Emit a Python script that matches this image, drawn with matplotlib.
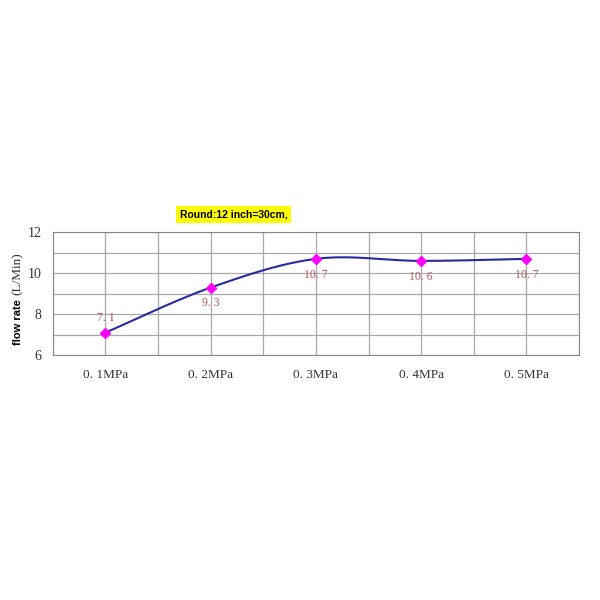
import numpy as np
import matplotlib.pyplot as plt

categories = ['0. 1MPa', '0. 2MPa', '0. 3MPa', '0. 4MPa', '0. 5MPa']
flow = [7.1, 9.3, 10.7, 10.6, 10.7]
label_above = [True, False, False, False, False]

plt.rcParams['font.family'] = ['Liberation Serif', 'DejaVu Serif']

x = np.arange(len(flow), dtype=float)
y = np.array(flow)


def smooth(x, y, n=40):
    # Catmull-Rom style smoothing like a spreadsheet "smoothed line"
    px = np.concatenate([[x[0]], x, [x[-1]]])
    py = np.concatenate([[y[0]], y, [y[-1]]])
    xs, ys = [], []
    t = np.linspace(0, 1, n)
    for i in range(1, len(px) - 2):
        p0, p1, p2, p3 = (np.array([px[j], py[j]]) for j in range(i - 1, i + 3))
        c1 = p1 + (p2 - p0) / 6
        c2 = p2 - (p3 - p1) / 6
        b = ((1 - t) ** 3)[:, None] * p1 + (3 * (1 - t) ** 2 * t)[:, None] * c1 \
            + (3 * (1 - t) * t ** 2)[:, None] * c2 + (t ** 3)[:, None] * p2
        xs.extend(b[:, 0])
        ys.extend(b[:, 1])
    return np.array(xs), np.array(ys)


fig = plt.figure(figsize=(6, 6), dpi=100)
ax = fig.add_axes([0.088, 0.408, 0.877, 0.205])

sx, sy = smooth(x, y)
ax.plot(sx, sy, color='#2a2aa0', lw=1.5, zorder=3)
ax.plot(x, y, linestyle='none', marker='D', ms=5, color='#ff00ff', zorder=4)

for xi, yi, up in zip(x, y, label_above):
    ax.annotate(str(yi).replace('.', '. '), (xi, yi), xytext=(0, 6 if up else -7),
                textcoords='offset points', ha='center', va='bottom' if up else 'top',
                fontsize=8.5, color='#b05a5a')

ax.set_xlim(-0.5, len(flow) - 0.5)
ax.set_ylim(6, 12)
ax.set_xticks(x)
ax.set_xticklabels(categories, fontsize=9.5, color='#333333')
ax.set_xticks(np.arange(-0.5, len(flow), 1.0), minor=True)
ax.set_yticks([6, 8, 10, 12])
ax.set_yticks(np.arange(6, 12.1, 1), minor=True)
ax.tick_params(axis='y', labelsize=10, colors='#333333', length=0, pad=8)
ax.tick_params(axis='x', which='both', length=0, pad=10)
ax.tick_params(axis='y', which='minor', length=0)
ax.grid(True, which='both', color='#a8a8a8', lw=0.9)
for s in ax.spines.values():
    s.set_color('#888888')
ax.set_axisbelow(True)

fig.text(0.03, 0.425, 'flow rate', rotation=90, ha='center', va='bottom',
         fontsize=8, fontweight='bold', family='Liberation Sans')
fig.text(0.03, 0.508, '(L/Min)', rotation=90, ha='center', va='bottom',
         fontsize=9.5, color='#333333')

fig.text(0.3, 0.643, 'Round:12 inch=30cm,', ha='left', va='center', fontsize=7.5,
         fontweight='bold', family='Liberation Sans',
         bbox=dict(boxstyle='square,pad=0.35', fc='#ffff00', ec='none'))

fig.savefig('out.png', dpi=100)
